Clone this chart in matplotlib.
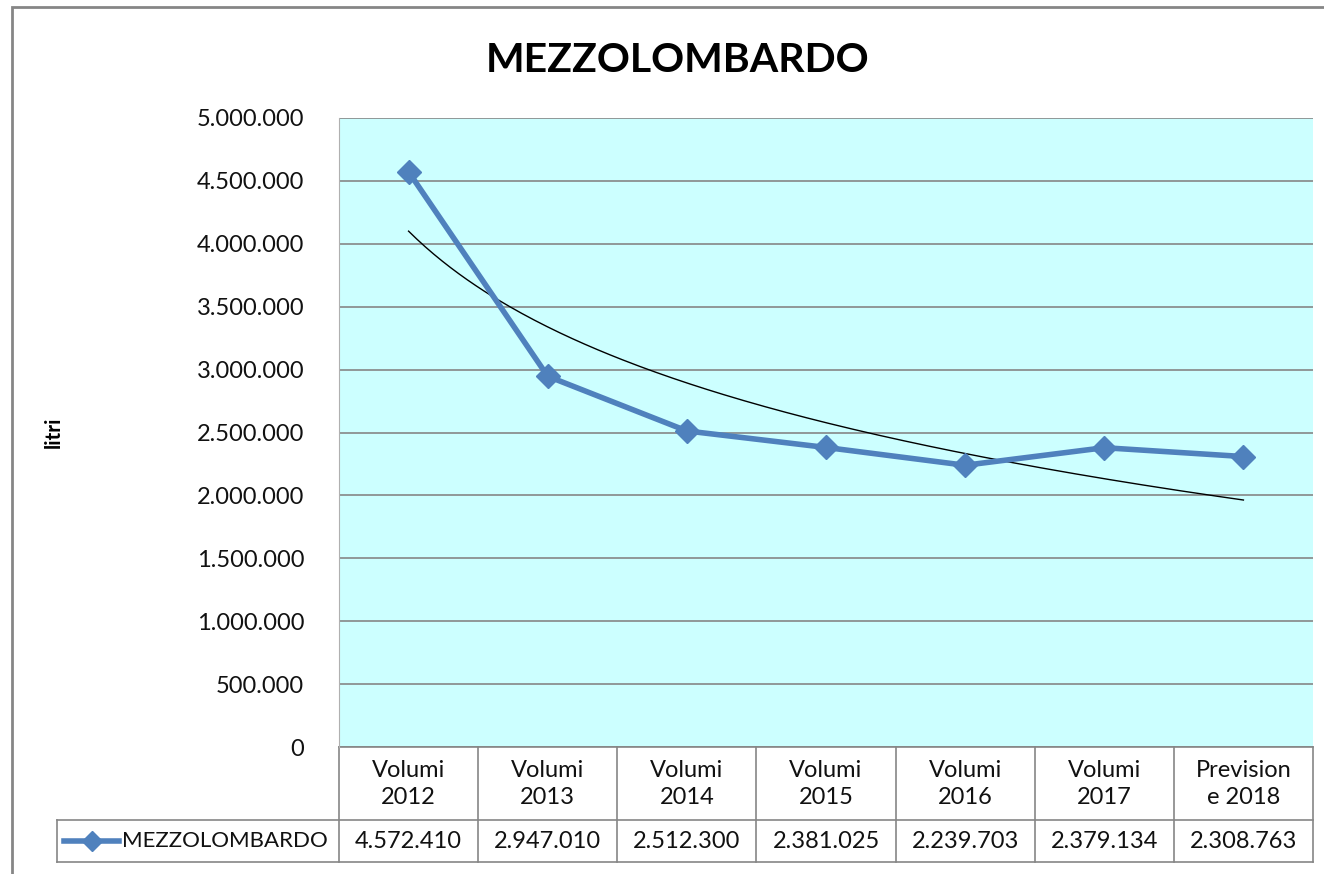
import numpy as np
import matplotlib.pyplot as plt
from matplotlib.patches import Rectangle

plt.rcParams['font.family'] = ['Lato', 'DejaVu Sans']

categories = ['Volumi\n2012', 'Volumi\n2013', 'Volumi\n2014', 'Volumi\n2015',
              'Volumi\n2016', 'Volumi\n2017', 'Prevision\ne 2018']
values = [4572410, 2947010, 2512300, 2381025, 2239703, 2379134, 2308763]
series_name = 'MEZZOLOMBARDO'
y_ticks = np.arange(0, 5000001, 500000)

def fmt(v):
    return '{:,}'.format(int(v)).replace(',', '.')

W, H = 1324, 874
fig = plt.figure(figsize=(W / 100, H / 100), dpi=100)
fig.patch.set_facecolor('white')

# chart border (cut off on right and bottom in the original)
fig.add_artist(Rectangle((12 / W, -0.1), 1.2, 1 - 7 / H + 0.1, transform=fig.transFigure,
                         fill=False, edgecolor='#868686', linewidth=2))

left, right, top, bottom = 339, 1313, 118, 747
ax = fig.add_axes([left / W, 1 - bottom / H, (right - left) / W, (bottom - top) / H])
ax.set_facecolor('#CCFFFF')
x = np.arange(len(values))
ax.set_xlim(-0.5, len(values) - 0.5)
ax.set_ylim(0, 5000000)
ax.set_yticks(y_ticks)
ax.set_yticklabels([fmt(v) for v in y_ticks], fontsize=17)
ax.tick_params(axis='y', length=0, pad=25, labelcolor='#111111')
ax.set_xticks([])
ax.grid(axis='y', color='#868686', linewidth=1.2)
ax.set_axisbelow(True)
for s in ['top', 'right', 'bottom']:
    ax.spines[s].set_visible(False)
ax.spines['left'].set_color('#b0b0b0')
ax.spines['left'].set_linewidth(0.8)

# logarithmic trendline fitted on the series
lx = np.log(x + 1)
b, a = np.polyfit(lx, values, 1)
xt = np.linspace(0, len(values) - 1, 200)
ax.plot(xt, a + b * np.log(xt + 1), color='black', linewidth=1, zorder=3)

ax.plot(x, values, color='#4F81BD', linewidth=4, marker='D', markersize=12,
        zorder=4, clip_on=False)

ax.set_ylabel('litri', fontsize=15, fontweight='bold')
ax.yaxis.set_label_coords(-(left - 64) / (right - left), 0.5)

fig.text(0.5 * (487 + 868) / W, 1 - 60 / H, 'MEZZOLOMBARDO', fontsize=29.5,
         fontweight='bold', ha='center', va='center')

# data table under the plot
tr = ax.get_xaxis_transform()
cw = (right - left) / len(values)
def ya(py):
    return -(py - bottom) / (bottom - top)
y1, y2 = ya(820), ya(862)
x_leg = (57 - left) / cw - 0.5
lc = '#868686'
kw = dict(transform=tr, clip_on=False, color=lc, linewidth=1.2)
ax.plot([-0.5, len(values) - 0.5], [0, 0], **kw)
ax.plot([x_leg, len(values) - 0.5], [y1, y1], **kw)
ax.plot([x_leg, len(values) - 0.5], [y2, y2], **kw)
ax.plot([x_leg, x_leg], [y1, y2], **kw)
for i in range(len(values) + 1):
    ax.plot([i - 0.5, i - 0.5], [0, y2], **kw)
for i, (c, v) in enumerate(zip(categories, values)):
    ax.text(i, ya(784), c, transform=tr, ha='center', va='center',
            fontsize=17, linespacing=1.35, color='#111111')
    ax.text(i, (y1 + y2) / 2, fmt(v), transform=tr, ha='center', va='center',
            fontsize=17, color='#111111')

# legend key in the table
kx0 = (64 - left) / cw - 0.5
kx1 = (119 - left) / cw - 0.5
ym = (y1 + y2) / 2
ax.plot([kx0, kx1], [ym, ym], transform=tr, clip_on=False, color='#4F81BD', linewidth=4)
ax.plot([(kx0 + kx1) / 2], [ym], transform=tr, clip_on=False, color='#4F81BD',
        marker='D', markersize=10)
ax.text(kx1 + 0.02, ym, series_name, transform=tr, ha='left', va='center',
        fontsize=16, color='#111111')

fig.savefig('out.png', dpi=100)
